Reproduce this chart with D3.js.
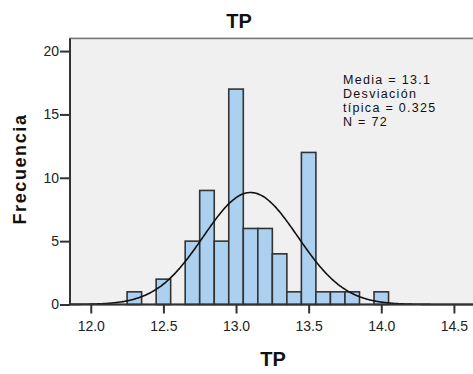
<!DOCTYPE html>
<html><head><meta charset="utf-8">
<script src="https://cdn.jsdelivr.net/npm/d3@7"></script>
<style>body{margin:0;background:#fff;}svg{display:block;font-family:"Liberation Sans",Arial,sans-serif;}</style>
</head><body>
<svg id="c" width="473" height="374"></svg>
<script>
const binCenters = [12.3, 12.5, 12.7, 12.8, 12.9, 13.0, 13.1, 13.2, 13.3, 13.4, 13.5, 13.6, 13.7, 13.8, 14.0];
const frequencies = [1, 2, 5, 9, 5, 17, 6, 6, 4, 1, 12, 1, 1, 1, 1];
const binWidth = 0.1;
const xTicks = [12.0, 12.5, 13.0, 13.5, 14.0, 14.5];
const yTicks = [0, 5, 10, 15, 20];
const stats = {mean: 13.1, sd: 0.325, n: 72};
const statLines = ["Media = 13.1", "Desviación", "típica = 0.325", "N = 72"];

const svg = d3.select("#c");
const L = 70, R = 477, T = 38.4, B = 304.5;
const x = d3.scaleLinear().domain([11.857, 14.659]).range([L, R]);
const y = d3.scaleLinear().domain([0, 21]).range([B, T]);

svg.append("rect").attr("x", L).attr("y", T).attr("width", R - L).attr("height", B - T)
  .attr("fill", "#f0f0f0").attr("stroke", "#777").attr("stroke-width", 1.6);

svg.append("g").selectAll("rect").data(binCenters).join("rect")
  .attr("x", (d) => x(d - binWidth / 2))
  .attr("y", (d, i) => y(frequencies[i]))
  .attr("width", (d) => x(d + binWidth / 2) - x(d - binWidth / 2))
  .attr("height", (d, i) => B - y(frequencies[i]))
  .attr("fill", "#acd0f0").attr("stroke", "#333").attr("stroke-width", 1.6);

// normal curve
const pts = d3.range(0, 401).map(i => {
  const v = x.domain()[0] + (x.domain()[1] - x.domain()[0]) * i / 400;
  const f = stats.n * binWidth / (stats.sd * Math.sqrt(2 * Math.PI)) * Math.exp(-0.5 * ((v - stats.mean) / stats.sd) ** 2);
  return [v, f];
});
svg.append("path").datum(pts)
  .attr("d", d3.line().x(d => x(d[0])).y(d => y(d[1])).curve(d3.curveBasis))
  .attr("fill", "none").attr("stroke", "#111").attr("stroke-width", 1.6);

// axes
const xa = svg.append("g").attr("transform", `translate(0,${B})`)
  .call(d3.axisBottom(x).tickValues(xTicks).tickFormat(d3.format(".1f")).tickSize(9).tickSizeOuter(0));
const ya = svg.append("g").attr("transform", `translate(${L},0)`)
  .call(d3.axisLeft(y).tickValues(yTicks).tickSize(10).tickSizeOuter(0));
[xa, ya].forEach(a => {
  a.select(".domain").attr("stroke", "#333").attr("stroke-width", 2);
  a.selectAll(".tick line").attr("stroke", "#333").attr("stroke-width", 2);
  a.selectAll(".tick text").attr("fill", "#222").attr("font-size", 14)
    .attr("font-family", '"Liberation Sans",Arial,sans-serif');
});
xa.select(".domain").attr("d", `M${L},0H${R}`);
ya.select(".domain").attr("d", `M0,${T}V${B}`);
xa.selectAll(".tick text").attr("dy", null).attr("y", 26);
ya.selectAll(".tick text").attr("x", -11);

// title & labels
svg.append("text").attr("x", 239).attr("y", 28).attr("text-anchor", "middle")
  .attr("font-size", 20).attr("font-weight", "bold").attr("fill", "#111").text("TP");
svg.append("text").attr("x", 273).attr("y", 366).attr("text-anchor", "middle")
  .attr("font-size", 20).attr("font-weight", "bold").attr("fill", "#111").text("TP");
svg.append("text").attr("transform", "translate(26,169) rotate(-90)").attr("text-anchor", "middle")
  .attr("font-size", 18).attr("font-weight", "bold").attr("letter-spacing", 1.6).attr("fill", "#111").text("Frecuencia");

svg.append("g").selectAll("text").data(statLines).join("text")
  .attr("x", 343).attr("y", (d, i) => 84 + i * 14)
  .attr("font-size", 12.5).attr("letter-spacing", 1.3).attr("fill", "#111").text(d => d);
</script>
</body></html>
